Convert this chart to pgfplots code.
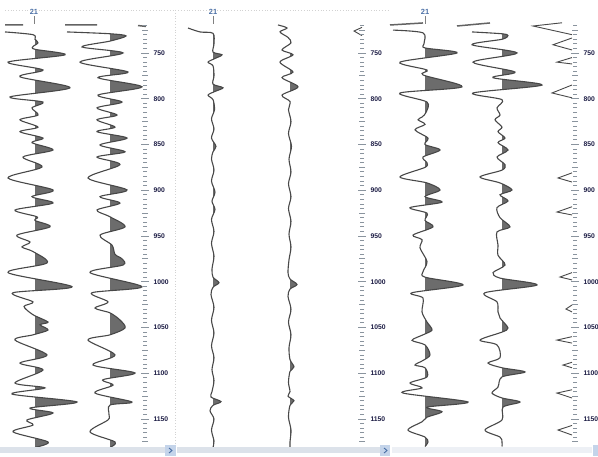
\documentclass[border=0pt]{standalone}
\usepackage{pgfplots}
\pgfplotsset{compat=1.18}
\usepackage{pgfplotstable}
\usepackage{fontspec}
\setmainfont{Liberation Sans}
\definecolor{wline}{HTML}{484848}
\definecolor{wfill}{HTML}{6C6C6C}
\definecolor{tickc}{HTML}{8A949E}
\definecolor{labc}{HTML}{1C1C44}
\definecolor{hdrc}{HTML}{4A6FA5}
\definecolor{scrl}{HTML}{DCE2EA}
\definecolor{btn}{HTML}{C4D4EA}

% panel 1, trace 1 (baseline 35)
\pgfplotstableread{
d a
727 -30
730 -2
735 0
739 3
743 -2
746 0
752 30
760 -27
768.6 8
776 -15
788 35
798 -25
803.6 8
810 -3
817.8 3
823 -15
831 3
836 -15
843 8
848 -3
856 18
863.7 -12
874.6 7
886.6 -27
899.7 18
907 -3
914 18
921.6 -20
929 2
933 0
940 15
949 -18
956.6 -5
962 -13
967 -2
979.5 12
990 -27
1005.5 37
1012 -22
1022 -2
1027 -11
1036 -2
1044 13
1047 5
1052.7 13
1058 -2
1063.7 -20
1080 12
1088.8 -15
1096.4 8
1110.6 -20
1116 10
1122.7 -23
1131.4 42
1138 -5
1143.4 18
1151 -8
1156.6 -2
1164 -22
1175 13
1181 0
}\tA
% panel 1, trace 2 (baseline 110)
\pgfplotstableread{
d a
727 -43
729 0
731.4 16
737 0
743.4 -28
750 13
760 -30
770.8 18
777 -12
787 32
796 -12
803.6 12
810 -13
817.8 7
823 -13
831 5
836 -13
843 17
850.5 -10
858 15
863.7 -13
872 10
886.6 -22
899.7 17
907 -10
914 10
921.6 -13
929 0
940 15
949 -10
960 2
970 5
975 12
981.7 13
990 -20
1005.5 32
1012 -18
1022 -2
1028.7 -15
1034 0
1041.8 10
1050.5 15
1058 0
1063.7 -22
1080 5
1091 -17
1099.7 25
1107 -7
1113 3
1121.6 -15
1131.4 22
1134.7 0
1145 -1
1151 -2
1164 -20
1175 5
1181 0
}\tB
% panel 2, trace 1 (baseline 213)
\pgfplotstableread{
d a
722.7 -25
727 -13
728.5 0
740 1
749 0
752 9
756 2
760 -5
764 0
775 1
784 0
788 10
792 2
796 -5
801 0
812 1.5
822 -1.5
833 1
843 -1.5
852 3
858 0
866 -1.5
878 1
890 -1.5
902 2
912 -1
921 2
932 -1.5
945 1
958 -1.5
972 1
986 -1
995 0
1001 6
1006 0
1014 -2
1028 1
1042 -1.5
1056 1
1070 -1.5
1083 1
1096 -1
1108 1
1120 -1
1126 -2
1131 8
1135 0
1141 -3
1150 1
1162 -1.5
1174 1
1181 0
}\tC
% panel 2, trace 2 (baseline 290)
\pgfplotstableread{
d a
719.4 -12
722.7 -3
727 -10
733 -2
739 1
746.7 -8
752 3
760 -10
770.8 3
777 -8
787 8
796 -8
803 0
812 -1.5
825 1
838 -1.5
852 1.5
866 -1
880 1
893 -1.5
907 1
920 -1.5
934 1
948 -1
962 1
976 -1
990 -2
997 0
1003 7
1008 0
1016 -2
1030 1
1044 -1.5
1058 1
1072 -1
1085 0
1093 4
1098 0
1110 -1.5
1120 0
1125 -2
1130 4
1135 0
1148 -1.5
1162 1
1175 0
1181 0
}\tD
% panel 3, trace 1 (baseline 425)
\pgfplotstableread{
d a
725 -32
728 -2
740 -1
744.5 0
750 32
760 -25
768.6 2
774 -2
787 37
793.7 -25
803.6 2
815 1
820 -3
823 -7
828 0
834 -10
843 3
850 0
856 15
863.7 -2
870 2
875 0
885.5 -25
892 2
899.7 15
907 0
913 17
919 -15
925 2
933 0
940 8
949 -12
954 -3
963 -5
978 2
989 -2
995 0
1003.5 38
1012 -13
1017.8 -2
1033 -3
1044 2
1052.7 7
1058 -2
1064 -13
1069 0
1080 5
1086 -2
1091 -10
1094 0
1104 2
1110.6 -15
1116 -3
1121.6 -22
1131.4 43
1137 2
1142 17
1148 2
1153 -3
1162 -17
1169.7 0
1175 3
1180 0
}\tE
% panel 3, trace 2 (baseline 502)
\pgfplotstableread{
d a
727 -30
729 0
731 6
735 0
741 -30
750 15
760 -29
770.8 13
777 -9
785 40
793.7 -29
801 0
810 -5
817.8 -2
823 -7
831 0
836 -4
843 3
848 -4
856 6
863.7 -5
872 3
878 0
885.5 -22
892 -2
899.7 10
905 -2
911.7 6
919 -5
930 -2
940 8
945.6 -5
960 -4
971 -4
981.7 3
990 -9
996 -2
1003.5 35
1012 -17
1022 -5
1033 -4
1039.6 -2
1050.5 6
1055 0
1063.7 -22
1069 -5
1083 -2
1088.8 -14
1094 0
1098.6 23
1104 0
1115 -4
1121.6 -10
1127 0
1131.4 18
1137 1
1151 0
1162 -17
1169.7 -2
1175 0
1180 0
}\tF
% panel 3, trace 3 spikes (absolute x)
\pgfplotstableread{
x d
562 717
533 720.5
572 730
nan nan
572 733.6
553 741
572 746.7
nan nan
572 755
557 760
572 762
nan nan
572 785
552 793.7
572 799
nan nan
572 881
558 886.6
572 891
nan nan
572 918
557 923.8
572 927
nan nan
572 990
560 994.8
572 998
nan nan
572 1025.4
566 1029.8
572 1033
nan nan
572 1060
557 1063.7
572 1067
nan nan
572 1088
563 1091
572 1094
nan nan
572 1118
557 1121.6
572 1127
nan nan
572 1157
558 1162
572 1167.5
nan nan
362 722
354 726
362 731
}\tG

\pgfplotsset{
  panel/.style={scale only axis, anchor=south west, height=457bp,
    ymin=692.1, ymax=1191.5, y dir=reverse, hide axis},
  fillax/.style={panel, at={(#1bp,0)}, width=70bp, xmin=#1, xmax=#1+70},
  tr/.style={wline, line width=1.1bp, smooth},
  depthax/.style={scale only axis, at={(#1bp,0)}, anchor=south east,
    width=10bp, height=457bp, xmin=0, xmax=1,
    ymin=692.1, ymax=1191.5, y dir=reverse,
    hide x axis, axis y line*=right, axis line style={draw=none},
    ytick={750,800,...,1150}, minor ytick={720,725,...,1175},
    extra y ticks={725,775,...,1175}, extra y tick labels={},
    extra y tick style={major tick length=6bp},
    major tick length=8bp, minor tick length=4bp, tick align=center,
    tick style={color=tickc, line width=0.9bp},
    yticklabel style={font=\fontsize{6.8}{7}\selectfont\bfseries, text=labc, xshift=1bp},
    /pgf/number format/1000 sep={}, /pgf/number format/assume math mode=true},
}

\begin{document}
\begin{tikzpicture}
\useasboundingbox (0,0) rectangle (598bp,457bp);
% positive-lobe fills: area left of each trace, clipped at its baseline
\begin{axis}[fillax=35]
\addplot[fill=wfill, draw=none, smooth] table[x expr=\thisrow{a}+35, y=d]{\tA} -- (axis cs:-65,1181) -- (axis cs:-65,727) -- cycle;
\end{axis}
\begin{axis}[fillax=110]
\addplot[fill=wfill, draw=none, smooth] table[x expr=\thisrow{a}+110, y=d]{\tB} -- (axis cs:10,1181) -- (axis cs:10,727) -- cycle;
\end{axis}
\begin{axis}[fillax=213]
\addplot[fill=wfill, draw=none, smooth] table[x expr=\thisrow{a}+213, y=d]{\tC} -- (axis cs:113,1181) -- (axis cs:113,722) -- cycle;
\end{axis}
\begin{axis}[fillax=290]
\addplot[fill=wfill, draw=none, smooth] table[x expr=\thisrow{a}+290, y=d]{\tD} -- (axis cs:190,1181) -- (axis cs:190,719) -- cycle;
\end{axis}
\begin{axis}[fillax=425]
\addplot[fill=wfill, draw=none, smooth] table[x expr=\thisrow{a}+425, y=d]{\tE} -- (axis cs:325,1180) -- (axis cs:325,725) -- cycle;
\end{axis}
\begin{axis}[fillax=502]
\addplot[fill=wfill, draw=none, smooth] table[x expr=\thisrow{a}+502, y=d]{\tF} -- (axis cs:402,1180) -- (axis cs:402,727) -- cycle;
\end{axis}
% trace outlines
\begin{axis}[panel, at={(0,0)}, width=598bp, xmin=0, xmax=598, clip=false]
\addplot[tr] table[x expr=\thisrow{a}+35, y=d]{\tA};
\addplot[tr] table[x expr=\thisrow{a}+110, y=d]{\tB};
\addplot[tr] table[x expr=\thisrow{a}+213, y=d]{\tC};
\addplot[tr] table[x expr=\thisrow{a}+290, y=d]{\tD};
\addplot[tr] table[x expr=\thisrow{a}+425, y=d]{\tE};
\addplot[tr] table[x expr=\thisrow{a}+502, y=d]{\tF};
\addplot[wline, line width=0.9bp, unbounded coords=jump] table[x=x, y=d]{\tG};
% header stubs
\addplot[wline!85, line width=1.5bp, unbounded coords=jump] coordinates {
 (5,719.4) (23,719.4) (nan,nan) (65,719.4) (97,719.4) (nan,nan)
 (390,719.4) (423,717.2) (nan,nan) (457,720.5) (490,717.2) (nan,nan)
 (138,720) (146,721)};
% well markers
\addplot[gray, line width=0.7bp, unbounded coords=jump] coordinates {
 (34,710) (34,718) (nan,nan) (213,710) (213,718) (nan,nan) (425,710) (425,718)};
\node[text=hdrc, font=\fontsize{7.5}{8}\selectfont\bfseries] at (axis cs:34,705) {21};
\node[text=hdrc, font=\fontsize{7.5}{8}\selectfont\bfseries] at (axis cs:213,705) {21};
\node[text=hdrc, font=\fontsize{7.5}{8}\selectfont\bfseries] at (axis cs:425,705) {21};
% frame lines
\draw[gray!35, dotted, line width=0.8bp] (axis cs:5,703) -- (axis cs:390,703);
\draw[gray!35, dotted, line width=0.8bp] (axis cs:175,703) -- (axis cs:175,1180);
\end{axis}
% depth scales
\begin{axis}[depthax=145]\addplot[draw=none] coordinates {(0,750)};\end{axis}
\begin{axis}[depthax=362]\addplot[draw=none] coordinates {(0,750)};\end{axis}
\begin{axis}[depthax=575]\addplot[draw=none] coordinates {(0,750)};\end{axis}
% scroll bars
\fill[scrl] (0bp,4bp) rectangle (165bp,10bp);
\fill[scrl] (177bp,4bp) rectangle (380bp,10bp);
\fill[scrl!50] (392bp,4bp) rectangle (592bp,10bp);
\fill[btn] (165bp,1bp) rectangle (176bp,12bp);
\fill[btn] (380bp,1bp) rectangle (390bp,12bp);
\fill[btn] (593bp,1bp) rectangle (598bp,12bp);
\draw[hdrc, line width=0.9bp] (169bp,9bp) -- (172bp,6.5bp) -- (169bp,4bp);
\draw[hdrc, line width=0.9bp] (384bp,9bp) -- (387bp,6.5bp) -- (384bp,4bp);
\end{tikzpicture}
\end{document}
